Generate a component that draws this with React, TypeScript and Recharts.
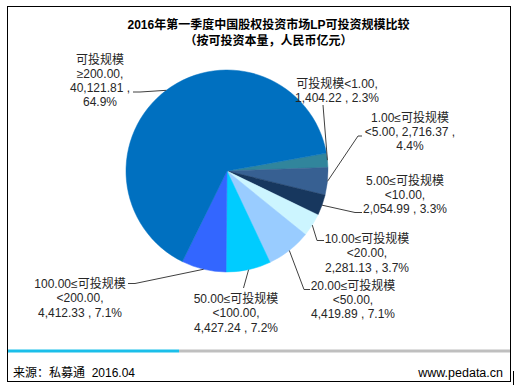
import React from 'react';
import { PieChart, Pie, Cell } from 'recharts';

// categories (split so the labels can wrap like the original)
const catHead = ['可投规模', '1.00≤可投规模', '5.00≤可投规模', '10.00≤可投规模', '20.00≤可投规模', '50.00≤可投规模', '100.00≤可投规模', '可投规模'];
const catTail = ['<1.00', '<5.00', '<10.00', '<20.00', '<50.00', '<100.00', '<200.00', '≥200.00'];
const amounts = [1404.22, 2716.37, 2054.99, 2281.13, 4419.89, 4427.24, 4412.33, 40121.81];
const colors = ['#31859C', '#376092', '#17375E', '#CCF5FF', '#99CCFF', '#00CCFF', '#3366FF', '#0070C0'];

const data = amounts.map((v, i) => ({ name: catHead[i] + catTail[i], value: v }));

const FONT = '"Liberation Sans", Arial, "Noto Sans CJK SC", sans-serif';
const TEXT = '#262626';
const LINE = '#404040';
const RAD = Math.PI / 180;

// label placement: first-line centre, wrap template, leader points after the slice edge
const labelLayout = [
  { x: 337, y: 83, tpl: '{h}{t},\n{v} , {p}', path: [[323, 105]] },
  { x: 410, y: 117, tpl: '{h}\n{t}, {v} ,\n{p}', path: [[358, 136], [362, 136]] },
  { x: 405, y: 180, tpl: '{h}\n{t},\n{v} , {p}', path: [[355, 212.5], [362, 212.5]] },
  { x: 367, y: 238.5, tpl: '{h}\n{t},\n{v} , {p}', path: [[317, 240.5], [324, 240.5]] },
  { x: 353, y: 285, tpl: '{h}\n{t},\n{v} , {p}', path: [[304, 289.5], [310, 289.5]] },
  { x: 236, y: 298.5, tpl: '{h}\n{t},\n{v} , {p}', path: [[243.5, 288]] },
  { x: 80, y: 283.5, tpl: '{h}\n{t},\n{v} , {p}', path: [[135, 283.5], [128, 283.5]] },
  { x: 100, y: 59, tpl: '{h}\n{t},\n{v} ,\n{p}', path: [[140, 92], [133, 92]] },
];

const fmt = (v: number) => v.toLocaleString('en-US', { minimumFractionDigits: 2, maximumFractionDigits: 2 });

const renderLabel = (props: any) => {
  const { cx, cy, midAngle, outerRadius, index, value, percent } = props;
  const lay = labelLayout[index];
  const ex = cx + outerRadius * Math.cos(-midAngle * RAD);
  const ey = cy + outerRadius * Math.sin(-midAngle * RAD);
  const pts = [[ex, ey], ...lay.path].map((p) => p.join(',')).join(' ');
  const lines = lay.tpl
    .replace('{h}', catHead[index])
    .replace('{t}', catTail[index])
    .replace('{v}', fmt(value))
    .replace('{p}', (percent * 100).toFixed(1) + '%')
    .split('\n');
  return (
    <g key={'lbl' + index}>
      <polyline points={pts} fill="none" stroke={LINE} strokeWidth={1} />
      {lines.map((ln, j) => (
        <text key={j} x={lay.x} y={lay.y + j * 14.3 + 4.5} textAnchor="middle" fontSize={12} fontFamily={FONT} fill={TEXT}>
          {ln}
        </text>
      ))}
    </g>
  );
};

const App: React.FC = () => {
  return (
    <div style={{ position: 'absolute', left: 0, top: 0, width: 514, height: 388, background: '#fff' }}>
      <PieChart width={514} height={388}>
        <Pie
          data={data}
          dataKey="value"
          nameKey="name"
          cx={222}
          cy={166}
          outerRadius={101}
          startAngle={10.2}
          endAngle={-349.8}
          label={renderLabel}
          labelLine={false}
          isAnimationActive={false}
        >
          {data.map((d, i) => (
            <Cell key={d.name} fill={colors[i]} stroke={colors[i]} strokeWidth={0.5} />
          ))}
        </Pie>
      </PieChart>
      <svg width={514} height={388} style={{ position: 'absolute', left: 0, top: 0, pointerEvents: 'none' }}>
        <rect x={7.5} y={6.5} width={503} height={375} fill="none" stroke="#000" strokeWidth={1} />
        <line x1={513.5} y1={371} x2={513.5} y2={385} stroke="#000" strokeWidth={1} />
        <text x={268.5} y={28.5} textAnchor="middle" fontSize={12} fontWeight="bold" fontFamily={FONT} fill="#000">
          2016年第一季度中国股权投资市场LP可投资规模比较
        </text>
        <text x={268.5} y={44.5} textAnchor="middle" fontSize={12} fontWeight="bold" fontFamily={FONT} fill="#000">
          （按可投资本量，人民币亿元）
        </text>
        <rect x={8} y={349.5} width={171} height={3} fill="#1BBFEA" />
        <rect x={179} y={349.5} width={331} height={3} fill="#BFBFBF" />
        <text x={13} y={377} fontSize={12} fontFamily={FONT} fill="#000">{'来源：私募通\u00A0\u00A02016.04'}</text>
        <text x={503} y={377} textAnchor="end" fontSize={12.5} fontFamily={FONT} fill="#000">www.pedata.cn</text>
      </svg>
    </div>
  );
};

export default App;
